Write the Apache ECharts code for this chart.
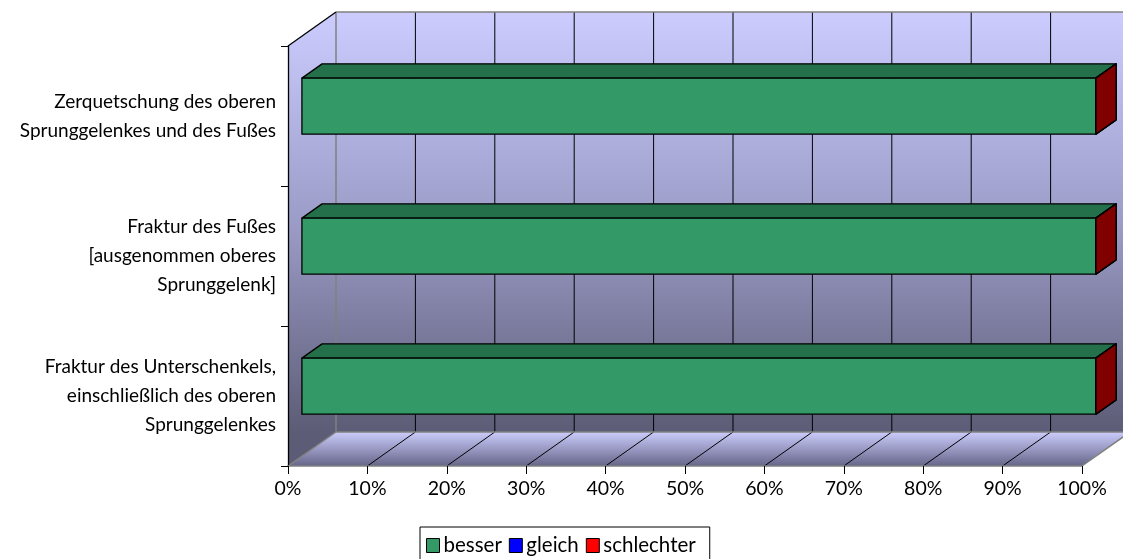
<!DOCTYPE html>
<html>
<head>
<meta charset="utf-8">
<script src="https://cdn.jsdelivr.net/npm/echarts@6/dist/echarts.min.js"></script>
<style>
  html, body { margin: 0; padding: 0; background: #fff; }
  #chart { width: 1123px; height: 559px; }
</style>
</head>
<body>
<div id="chart"></div>
<script>
// Injury groups (bottom to top on the category axis)
const categories = [
  'Fraktur des Unterschenkels,\neinschließlich des oberen\nSprunggelenkes',
  'Fraktur des Fußes\n[ausgenommen oberes\nSprunggelenk]',
  'Zerquetschung des oberen\nSprunggelenkes und des Fußes'
];
// Share of outcomes in percent
const besser = [100, 100, 100];
const gleich = [0, 0, 0];
const schlechter = [0, 0, 0];
// Percentage ticks along the value axis
const xTicks = [0, 10, 20, 30, 40, 50, 60, 70, 80, 90, 100];

const FONT = 'Lato';
const DEPTH = [48, -34];          // perspective offset from front plane to back wall
const BAR_FRONT = 0.29, BAR_BACK = 0.71, BAR_H = 0.4;

const seriesDefs = [
  { name: 'besser', values: besser, front: '#339966', top: '#24704b', side: '#1a4d33' },
  { name: 'gleich', values: gleich, front: '#0000ff', top: '#0000b3', side: '#000080' },
  { name: 'schlechter', values: schlechter, front: '#ff0000', top: '#b30000', side: '#800000' }
];

// Build stacked [start, end, categoryIndex] triples
const starts = categories.map(() => 0);
const stacked = seriesDefs.map(def => def.values.map((v, i) => {
  const s = starts[i];
  starts[i] += v;
  return [s, s + v, i];
}));

function renderBox(def) {
  return function (params, api) {
    const s = api.value(0), e = api.value(1), cat = api.value(2);
    const p0 = api.coord([s, cat]);
    const p1 = api.coord([e, cat]);
    const band = api.size([0, 1])[1];
    const h = band * BAR_H;
    const fx = DEPTH[0] * BAR_FRONT, fy = DEPTH[1] * BAR_FRONT;
    const bx = DEPTH[0] * BAR_BACK, by = DEPTH[1] * BAR_BACK;
    const xl = p0[0], xr = p1[0];
    const yt = p0[1] - h / 2, yb = p0[1] + h / 2;
    const stroke = { stroke: '#000', lineWidth: 1.3, lineJoin: 'round' };
    const children = [];
    if (xr - xl > 0.5) {
      children.push({
        type: 'polygon',
        shape: { points: [[xl + fx, yt + fy], [xr + fx, yt + fy], [xr + bx, yt + by], [xl + bx, yt + by]] },
        style: Object.assign({ fill: def.top }, stroke)
      });
      children.push({
        type: 'rect',
        shape: { x: xl + fx, y: yt + fy, width: xr - xl, height: h },
        style: Object.assign({ fill: def.front }, stroke)
      });
    }
    children.push({
      type: 'polygon',
      shape: { points: [[xr + fx, yt + fy], [xr + bx, yt + by], [xr + bx, yb + by], [xr + fx, yb + fy]] },
      style: Object.assign({ fill: def.side }, stroke)
    });
    return { type: 'group', children: children };
  };
}

function renderWalls(params, api) {
  const cs = params.coordSys;
  const L = cs.x, T = cs.y, R = cs.x + cs.width, B = cs.y + cs.height;
  const dx = DEPTH[0], dy = DEPTH[1];
  const wallFill = {
    type: 'linear', global: true, x: 0, y: T + dy, x2: 0, y2: B + dy,
    colorStops: [
      { offset: 0, color: '#ccccff' },
      { offset: 0.5, color: '#9c9cc8' },
      { offset: 1, color: '#5c5c76' }
    ]
  };
  const floorFill = {
    type: 'linear', global: true, x: 0, y: B + dy, x2: 0, y2: B,
    colorStops: [
      { offset: 0, color: '#ccccfc' },
      { offset: 1, color: '#66668a' }
    ]
  };
  const gray = { stroke: '#808080', lineWidth: 1.5 };
  const black = { stroke: '#000', lineWidth: 1 };
  const children = [
    { type: 'rect', shape: { x: L + dx, y: T + dy, width: cs.width + 20, height: cs.height }, style: { fill: wallFill } },
    { type: 'polygon', shape: { points: [[L, T], [L + dx, T + dy], [L + dx, B + dy], [L, B]] }, style: { fill: wallFill } },
    { type: 'polygon', shape: { points: [[L, B], [R, B], [R + dx, B + dy], [L + dx, B + dy]] }, style: { fill: floorFill } }
  ];
  xTicks.forEach(v => {
    const x = api.coord([v, 0])[0];
    if (v > 0 && v < 100) {
      children.push({ type: 'line', shape: { x1: x + dx, y1: T + dy, x2: x + dx, y2: B + dy }, style: black });
      children.push({ type: 'line', shape: { x1: x, y1: B, x2: x + dx, y2: B + dy }, style: black });
    }
  });
  children.push({ type: 'line', shape: { x1: L + dx, y1: T + dy, x2: L + dx, y2: B + dy }, style: gray });
  children.push({ type: 'line', shape: { x1: L + dx, y1: T + dy, x2: R + dx + 20, y2: T + dy }, style: gray });
  children.push({ type: 'line', shape: { x1: L + dx, y1: B + dy, x2: R + dx, y2: B + dy }, style: gray });
  children.push({ type: 'line', shape: { x1: L, y1: B, x2: L + dx, y2: B + dy }, style: gray });
  children.push({ type: 'line', shape: { x1: R, y1: B, x2: R + dx, y2: B + dy }, style: gray });
  children.push({ type: 'line', shape: { x1: L, y1: T, x2: L + dx, y2: T + dy }, style: { stroke: '#000', lineWidth: 1.3 } });
  return { type: 'group', children: children };
}

const chart = echarts.init(document.getElementById('chart'), null, { renderer: 'canvas' });

const series = [{
  type: 'custom',
  name: 'walls',
  renderItem: renderWalls,
  data: [[0, 0]],
  z: 1,
  silent: true,
  clip: false
}].concat(seriesDefs.map((def, k) => ({
  type: 'custom',
  name: def.name,
  renderItem: renderBox(def),
  data: stacked[k],
  encode: { x: [0, 1], y: 2 },
  itemStyle: { color: def.front },
  z: 10 + k,
  clip: false
})));

chart.setOption({
  animation: false,
  textStyle: { fontFamily: FONT },
  grid: { left: 288, right: 41, top: 46, bottom: 93, containLabel: false },
  xAxis: {
    type: 'value', min: 0, max: 100, interval: 10,
    z: 5,
    axisLine: { show: true, lineStyle: { color: '#808080', width: 1.5 } },
    axisTick: { show: true, length: 8, lineStyle: { color: '#000', width: 1 } },
    axisLabel: { formatter: '{value}%', fontSize: 19.5, color: '#000', margin: 13, fontFamily: FONT },
    splitLine: { show: false }
  },
  yAxis: {
    type: 'category', data: categories,
    z: 5,
    axisLine: { show: true, lineStyle: { color: '#000', width: 1.3 } },
    axisTick: { show: true, length: 7, lineStyle: { color: '#000', width: 1 } },
    axisLabel: { fontSize: 19, lineHeight: 28.8, color: '#000', margin: 12, fontFamily: FONT, align: 'right' },
    splitLine: { show: false }
  },
  legend: {
    data: ['besser', 'gleich', 'schlechter'],
    left: 420, top: 527,
    orient: 'horizontal',
    icon: 'rect',
    itemWidth: 13, itemHeight: 14,
    itemGap: 7,
    padding: [8, 14, 10, 6],
    borderColor: '#000', borderWidth: 1,
    itemStyle: { borderColor: '#000', borderWidth: 1 },
    textStyle: { fontSize: 20.5, color: '#000', fontFamily: FONT, padding: [0, 0, 0, -1] }
  },
  series: series
});
</script>
</body>
</html>
